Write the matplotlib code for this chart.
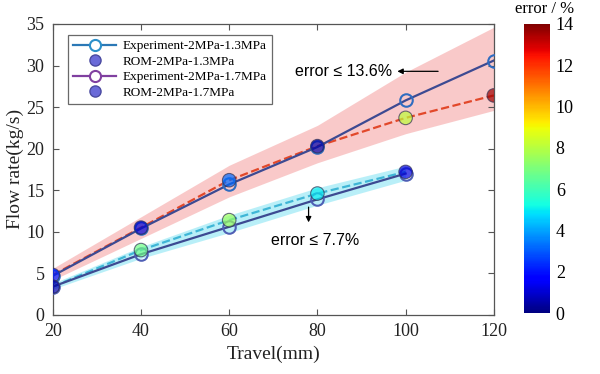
import numpy as np
import matplotlib.pyplot as plt
from matplotlib.lines import Line2D
import matplotlib as mpl

# travel positions (mm)
travel_13 = [20, 40, 60, 80, 100, 120]
travel_17 = [20, 40, 60, 80, 100]

# flow rate (kg/s)
exp_13 = [4.7, 10.4, 15.7, 20.2, 25.8, 30.6]
rom_13 = [4.8, 10.5, 16.2, 20.3, 23.7, 26.4]
exp_17 = [3.4, 7.3, 10.6, 13.9, 17.0]
rom_17 = [3.4, 7.8, 11.4, 14.6, 17.2]

# error of ROM vs experiment (%)
err_13 = [2.1, 1.0, 3.2, 0.5, 8.1, 13.6]
err_17 = [0.6, 6.8, 7.5, 5.0, 1.2]

# shaded error bands
band13_lo = [4.2, 9.2, 14.2, 18.3, 21.8, 24.6]
band13_hi = [5.6, 11.8, 18.0, 22.8, 29.2, 34.6]
band17_lo = [3.1, 6.8, 9.9, 13.2, 16.2]
band17_hi = [3.8, 8.2, 12.0, 15.3, 17.9]

serif = ['Liberation Serif', 'DejaVu Serif']
sans = ['Liberation Sans', 'DejaVu Sans']

fig = plt.figure(figsize=(6, 3.74), dpi=100)
ax = fig.add_axes([0.088, 0.158, 0.735, 0.778])
cax = fig.add_axes([0.873, 0.163, 0.044, 0.773])

cmap = mpl.colormaps['jet']
norm = mpl.colors.Normalize(0, 14)

line_col = '#3d4a92'
edge_col = '#2f6cc0'

ax.fill_between(travel_13, band13_lo, band13_hi, color='#f7b3b3', alpha=0.7, lw=0, zorder=1)
ax.fill_between(travel_17, band17_lo, band17_hi, color='#a8ecf7', alpha=0.8, lw=0, zorder=1)

ax.plot(travel_13, rom_13, '--', color='#e2482a', lw=1.6, zorder=2)
ax.plot(travel_17, rom_17, '--', color='#3fb6d6', lw=1.6, zorder=2)

ax.plot(travel_13, exp_13, '-', color=line_col, lw=1.6, marker='o', ms=9,
        mfc='none', mec=edge_col, mew=1.5, zorder=3)
ax.plot(travel_17, exp_17, '-', color=line_col, lw=1.6, marker='o', ms=9,
        mfc='none', mec='#4f5fb5', mew=1.5, zorder=3)

ax.scatter(travel_13, rom_13, c=err_13, cmap=cmap, norm=norm, s=95, alpha=0.7,
           edgecolors='#333355', linewidths=0.8, zorder=4)
ax.scatter(travel_17, rom_17, c=err_17, cmap=cmap, norm=norm, s=95, alpha=0.7,
           edgecolors='#333355', linewidths=0.8, zorder=4)

ax.set_xlim(20, 120)
ax.set_ylim(0, 35)
ax.set_xticks(np.arange(20, 121, 20))
ax.set_yticks(np.arange(0, 36, 5))
ax.tick_params(direction='in', top=True, right=True, length=4, width=0.8,
               colors='#555555', labelcolor='#222222', labelsize=13, pad=6)
for lab in ax.get_xticklabels() + ax.get_yticklabels():
    lab.set_family(serif)
for sp in ax.spines.values():
    sp.set_color('#555555')
    sp.set_linewidth(0.9)

ax.set_xlabel('Travel(mm)', family=serif, fontsize=14, color='#222222', labelpad=4)
ax.set_ylabel('Flow rate(kg/s)', family=serif, fontsize=14, color='#222222', labelpad=2)

# annotations
ax.annotate('', xy=(97.5, 29.3), xytext=(108, 29.3),
            arrowprops=dict(arrowstyle='-|>', color='black', lw=0.9, mutation_scale=8))
ax.text(97, 29.3, 'error \u2264 13.6%', family=sans, fontsize=11.5, va='center', ha='right')
ax.annotate('', xy=(78, 10.8), xytext=(78, 13.3),
            arrowprops=dict(arrowstyle='-|>', color='black', lw=0.9, mutation_scale=8))
ax.text(69.5, 9.0, 'error \u2264 7.7%', family=sans, fontsize=11.5, va='center', ha='left')

handles = [
    Line2D([], [], color='#2b78b6', lw=1.6, marker='o', ms=8, mfc='white', mec='#2b8fc9', mew=1.5),
    Line2D([], [], ls='none', marker='o', ms=8, mfc='#6a6ad8', mec='#4a4aa0'),
    Line2D([], [], color='#8040a0', lw=1.6, marker='o', ms=8, mfc='white', mec='#8040a0', mew=1.5),
    Line2D([], [], ls='none', marker='o', ms=8, mfc='#6a6ad8', mec='#4a4aa0'),
]
labels = ['Experiment-2MPa-1.3MPa', 'ROM-2MPa-1.3MPa',
          'Experiment-2MPa-1.7MPa', 'ROM-2MPa-1.7MPa']
leg = ax.legend(handles, labels, loc='upper left', bbox_to_anchor=(0.02, 0.985),
                prop={'family': serif, 'size': 9.5}, frameon=True, fancybox=False,
                edgecolor='#444444', handlelength=3.2, labelspacing=0.25,
                borderpad=0.4, handletextpad=0.5)
leg.get_frame().set_linewidth(0.9)

cb = fig.colorbar(mpl.cm.ScalarMappable(norm=norm, cmap=cmap), cax=cax)
cb.set_ticks(np.arange(0, 15, 2))
cb.ax.tick_params(labelsize=13, length=0, pad=4)
for lab in cb.ax.get_yticklabels():
    lab.set_family(serif)
cb.outline.set_visible(False)
fig.text(0.908, 0.975, 'error / %', family=serif, fontsize=12, ha='center', va='center')

fig.savefig('out.png', dpi=100)
